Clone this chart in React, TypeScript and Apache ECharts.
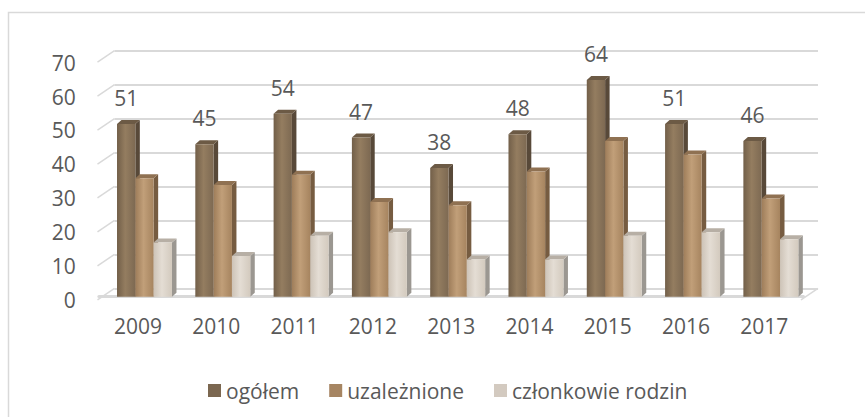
import React, { useEffect, useRef } from "react";
import * as echarts from "echarts";

const years = ["2009", "2010", "2011", "2012", "2013", "2014", "2015", "2016", "2017"];
const ogolem = [51, 45, 54, 47, 38, 48, 64, 51, 46];
const uzaleznione = [35, 33, 36, 28, 27, 37, 46, 42, 29];
const czlonkowie = [16, 12, 18, 19, 11, 11, 18, 19, 17];
const yTicks = [0, 10, 20, 30, 40, 50, 60, 70];
const seriesNames = ["ogółem", "uzależnione", "członkowie rodzin"];

const FONT = '"Open Sans", "Noto Sans", sans-serif';
const FS = 21;
const TEXT = "#595959";
const GRID = "#d9d9d9";

const palettes = [
  { front: ["#725f49", "#947d60", "#7d6952"], side: "#584939", top: "#6c5a45", legend: "#7b6750" },
  { front: ["#9e7d5a", "#c19f79", "#a6845f"], side: "#765c41", top: "#8f7152", legend: "#a68562" },
  { front: ["#cdc3b7", "#e4ddd4", "#d3cabe"], side: "#9b9791", top: "#b7afa5", legend: "#d3cac0" },
];

function makeRender(k: number, withLabel: boolean) {
  const pal = palettes[k];
  return (params: any, api: any) => {
    const i = api.value(0);
    const v = api.value(1);
    const top = api.coord([i, v]);
    const base = api.coord([i, 0]);
    const band = api.size([1, 0])[0];
    const w = band * 0.234;
    const x = top[0] + band * (-0.268 + k * 0.234);
    const yT = top[1];
    const yB = base[1];
    const dx = 4.5;
    const dy = 4;
    const children: any[] = [
      {
        type: "polygon",
        shape: { points: [[x + w, yT], [x + w + dx, yT - dy], [x + w + dx, yB - dy], [x + w, yB]] },
        style: { fill: pal.side },
      },
      {
        type: "polygon",
        shape: { points: [[x, yT], [x + dx, yT - dy], [x + w + dx, yT - dy], [x + w, yT]] },
        style: { fill: pal.top },
      },
      {
        type: "rect",
        shape: { x, y: yT, width: w, height: yB - yT },
        style: {
          fill: new echarts.graphic.LinearGradient(0, 0, 1, 0, [
            { offset: 0, color: pal.front[0] },
            { offset: 0.45, color: pal.front[1] },
            { offset: 1, color: pal.front[2] },
          ]),
        },
      },
    ];
    if (withLabel) {
      children.push({
        type: "text",
        x: x + w / 2,
        y: yT - 26,
        style: {
          text: String(v),
          fill: TEXT,
          font: `${FS}px ${FONT}`,
          align: "center",
          verticalAlign: "middle",
        },
      });
    }
    return { type: "group", children };
  };
}

export default function App() {
  const ref = useRef<HTMLDivElement>(null);
  useEffect(() => {
    if (!ref.current) return;
    const chart = echarts.init(ref.current, undefined, { renderer: "svg" });
    const values = [ogolem, uzaleznione, czlonkowie];
    const depthData = yTicks.map((t) => [0, t]).concat([[1, 0]]);
    chart.setOption({
      animation: false,
      backgroundColor: "#ffffff",
      textStyle: { fontFamily: FONT },
      graphic: [
        {
          type: "rect",
          shape: { x: 8.5, y: 12.5, width: 900, height: 500 },
          style: { fill: "none", stroke: GRID, lineWidth: 1.5 },
          silent: true,
        },
      ],
      legend: {
        left: 203,
        top: 375,
        icon: "rect",
        itemWidth: 13,
        itemHeight: 13,
        itemGap: 30,
        textStyle: { color: TEXT, fontSize: FS, fontFamily: FONT },
        data: seriesNames.map((n, k) => ({ name: n, itemStyle: { color: palettes[k].legend } })),
      },
      grid: [
        { left: 98.85, right: 61.5, top: 59.7, bottom: 120.3 },
        { left: 114.5, right: 47, top: 50.7, bottom: 128.7 },
        { left: 98.85, right: 61.5, top: 62.7, bottom: 117.3 },
      ],
      xAxis: [
        {
          type: "category",
          gridIndex: 0,
          data: years,
          offset: 3,
          axisLine: { show: true, lineStyle: { color: GRID, width: 3 } },
          axisTick: { show: false },
          axisLabel: { color: TEXT, fontSize: FS, fontFamily: FONT, margin: 16 },
        },
        { type: "value", gridIndex: 1, min: 0, max: 1, show: false },
        { type: "value", gridIndex: 2, min: 0, max: 1, show: false },
      ],
      yAxis: [
        {
          type: "value",
          gridIndex: 0,
          min: 0,
          max: 70,
          interval: 10,
          axisLine: { show: false },
          axisTick: { show: false },
          splitLine: { show: false },
          axisLabel: { show: false },
        },
        {
          type: "value",
          gridIndex: 1,
          min: 0,
          max: 70,
          interval: 10,
          axisLine: { show: false },
          axisTick: { show: false },
          axisLabel: { show: false },
          splitLine: { show: true, lineStyle: { color: GRID, width: 2 } },
        },
        {
          type: "value",
          gridIndex: 2,
          min: 0,
          max: 70,
          interval: 10,
          axisLine: { show: false },
          axisTick: { show: false },
          splitLine: { show: false },
          axisLabel: { color: TEXT, fontSize: FS, fontFamily: FONT, margin: 23 },
        },
      ],
      series: [
        {
          type: "custom",
          name: "depth",
          xAxisIndex: 1,
          yAxisIndex: 1,
          silent: true,
          data: depthData,
          renderItem: (params: any, api: any) => {
            const p = api.coord([api.value(0), api.value(1)]);
            return {
              type: "line",
              shape: { x1: p[0], y1: p[1], x2: p[0] - 17, y2: p[1] + 11.5 },
              style: { stroke: GRID, lineWidth: 1.5 },
            };
          },
        },
        ...seriesNames.map((n, k) => ({
          type: "custom",
          name: n,
          xAxisIndex: 0,
          yAxisIndex: 0,
          itemStyle: { color: palettes[k].legend },
          data: values[k].map((v, i) => [i, v]),
          encode: { x: 0, y: 1 },
          renderItem: makeRender(k, k === 0),
        })),
      ],
    });
    return () => chart.dispose();
  }, []);
  return (
    <div
      ref={ref}
      style={{ position: "fixed", left: 0, top: 0, width: 865, height: 417 }}
    />
  );
}
